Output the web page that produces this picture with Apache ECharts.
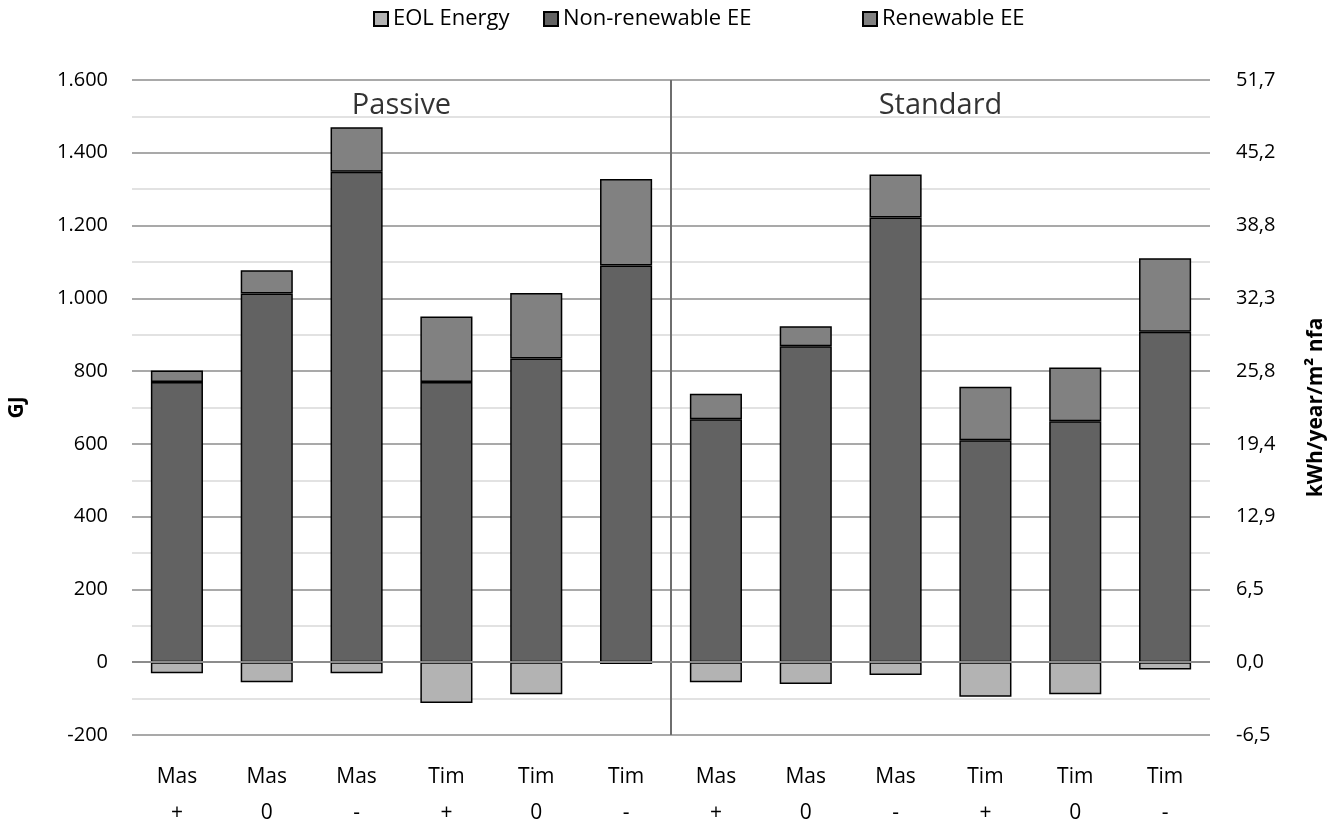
<!DOCTYPE html>
<html><head><meta charset="utf-8">
<script src="https://cdn.jsdelivr.net/npm/echarts@6/dist/echarts.min.js"></script>
<style>html,body{margin:0;padding:0;background:#fff}#c{width:1332px;height:825px}</style>
</head><body><div id="c"></div>
<script>
const categories = ['Mas\n+','Mas\n0','Mas\n-','Tim\n+','Tim\n0','Tim\n-','Mas\n+','Mas\n0','Mas\n-','Tim\n+','Tim\n0','Tim\n-'];
const eolEnergy = [-30,-55,-30,-112,-88,-5,-55,-60,-35,-95,-88,-20];
const nonRenewableEE = [770,1013,1348,770,835,1090,668,868,1222,610,662,908];
const renewableEE = [32,64,122,180,180,238,70,55,118,147,148,202];
const leftTicks = [-200,0,200,400,600,800,1000,1200,1400,1600];
const rightTickLabels = ['-6,5','0,0','6,5','12,9','19,4','25,8','32,3','38,8','45,2','51,7'];
const groupLabels = [{name:'Passive', x:3, y:1530},{name:'Standard', x:9, y:1530}];
const legendNames = ['EOL Energy','Non-renewable EE','Renewable EE'];
const dividerAt = 6;

const font = '"Open Sans", sans-serif';
const chart = echarts.init(document.getElementById('c'));
const fmtLeft = v => { const s = Math.abs(v).toString().replace(/\B(?=(\d{3})+(?!\d))/g,'.'); return (v<0?'-':'')+s; };
const barStyle = c => ({color:c, borderColor:'#000', borderWidth:1.5});
const legendLeft = [368, 538, 857];
chart.setOption({
  animation:false,
  textStyle:{fontFamily:font},
  legend:legendNames.map((n,i)=>({top:3,left:legendLeft[i],icon:'rect',itemWidth:14,itemHeight:14,itemGap:6,
    textStyle:{fontSize:22,color:'#000',fontFamily:font},data:[n]})),
  grid:{left:132,right:122,top:80,bottom:90,outerBoundsMode:'none',containLabel:false},
  xAxis:[{type:'category',data:categories,axisTick:{show:false},axisLine:{show:false},
    axisLabel:{fontSize:21,color:'#000',lineHeight:36,margin:24,interval:0}},
   {type:'value',min:0,max:12,show:false}],
  yAxis:[{type:'value',min:-200,max:1600,interval:200,
    axisLine:{show:false},axisTick:{show:false},
    axisLabel:{fontSize:20,color:'#000',formatter:fmtLeft,margin:24},
    splitLine:{lineStyle:{color:'#8c8c8c',width:1.5}},
    minorTick:{show:false,splitNumber:2},minorSplitLine:{show:true,lineStyle:{color:'#d9d9d9',width:1.5}},
    name:'GJ',nameLocation:'middle',nameGap:104,nameRotate:90,
    nameTextStyle:{fontSize:21,fontWeight:'bold',color:'#000'}},
   {type:'value',min:-200,max:1600,interval:200,position:'right',
    axisLabel:{fontSize:20,color:'#000',margin:26,formatter:v=>rightTickLabels[leftTicks.indexOf(v)]},
    splitLine:{show:false},axisLine:{show:false},axisTick:{show:false},
    name:'kWh/year/m² nfa',nameLocation:'middle',nameGap:96,nameRotate:90,
    nameTextStyle:{fontSize:21,fontWeight:'bold',color:'#000'}}],
  series:[
    {name:'EOL Energy',type:'bar',stack:'s',data:eolEnergy,barWidth:'58%',itemStyle:barStyle('#b3b3b3')},
    {name:'Non-renewable EE',type:'bar',stack:'s',data:nonRenewableEE,itemStyle:barStyle('#626262')},
    {name:'Renewable EE',type:'bar',stack:'s',data:renewableEE,itemStyle:barStyle('#818181')},
    {type:'scatter',xAxisIndex:1,symbolSize:0,silent:true,z:5,
      data:groupLabels.map(g=>({value:[g.x,g.y],name:g.name})),
      label:{show:true,position:'inside',formatter:p=>p.name,fontSize:29,color:'#000',fontFamily:font},
      markLine:{silent:true,symbol:'none',label:{show:false},lineStyle:{color:'#6e6e6e',width:2,type:'solid'},
        data:[{xAxis:dividerAt},{yAxis:0,lineStyle:{color:'#8c8c8c',width:2}}]}}
  ]
});
</script></body></html>
